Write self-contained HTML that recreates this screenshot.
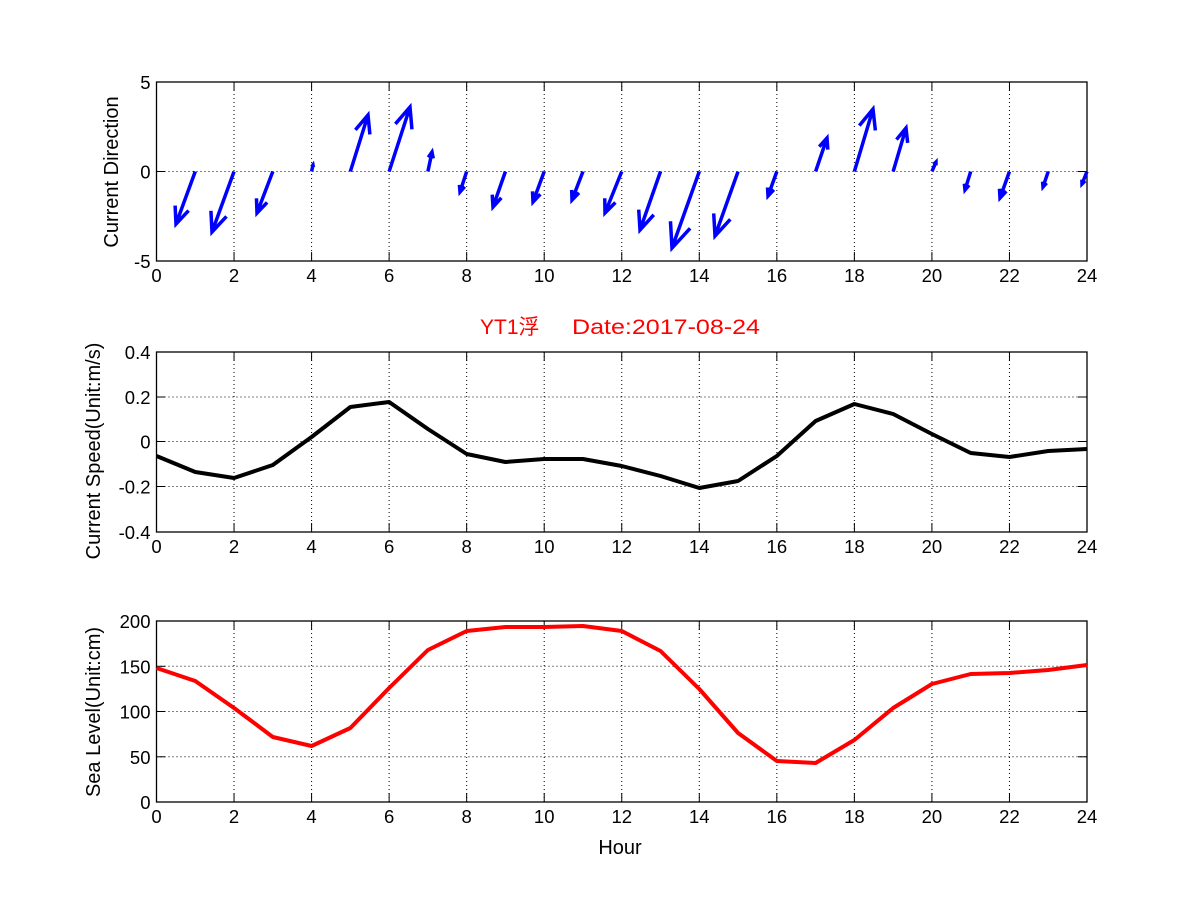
<!DOCTYPE html>
<html><head><meta charset="utf-8"><style>
html,body{margin:0;padding:0;background:#fff;}
svg{display:block;font-family:"Liberation Sans","Noto Sans CJK SC",sans-serif;}
</style></head><body>
<svg id="s" width="1201" height="901" viewBox="0 0 1201 901" xmlns="http://www.w3.org/2000/svg">
<rect width="1201" height="901" fill="#fff"/>
<g id="g"></g>
<text x="480" y="334" font-size="21" fill="#ff0000">YT1浮</text>
<text x="572" y="334" font-size="21" fill="#ff0000" textLength="188" lengthAdjust="spacingAndGlyphs">Date:2017-08-24</text>
<text x="620" y="854" font-size="20" text-anchor="middle">Hour</text>
<text transform="translate(118,172) rotate(-90)" font-size="20" text-anchor="middle">Current Direction</text>
<text transform="translate(100,451) rotate(-90)" font-size="20" text-anchor="middle">Current Speed(Unit:m/s)</text>
<text transform="translate(100,712) rotate(-90)" font-size="20" text-anchor="middle">Sea Level(Unit:cm)</text>
</svg>
<script>
var g=document.getElementById('g'),h='';
var L=156.5,R=1087;
function X(t){return L+t*(R-L)/24;}
function axes(top,bot,yt,ylab){
  var s='';
  for(var i=0;i<yt.length;i++){var y=yt[i];
    if(y>top+1&&y<bot-1) s+='<line x1="'+L+'" x2="'+R+'" y1="'+y+'" y2="'+y+'" stroke="#000" stroke-width="1" stroke-dasharray="1,3"/>';
    s+='<line x1="'+L+'" x2="'+(L+9)+'" y1="'+y+'" y2="'+y+'" stroke="#000"/><line x1="'+R+'" x2="'+(R-9)+'" y1="'+y+'" y2="'+y+'" stroke="#000"/>';
    s+='<text x="'+(L-6)+'" y="'+(y+7)+'" font-size="18.5" text-anchor="end">'+ylab[i]+'</text>';}
  for(var t=0;t<=24;t+=2){var x=X(t);
    if(t>0&&t<24) s+='<line x1="'+x+'" x2="'+x+'" y1="'+top+'" y2="'+bot+'" stroke="#000" stroke-dasharray="1,3"/>';
    s+='<line x1="'+x+'" x2="'+x+'" y1="'+bot+'" y2="'+(bot-9)+'" stroke="#000"/><line x1="'+x+'" x2="'+x+'" y1="'+top+'" y2="'+(top+9)+'" stroke="#000"/>';
    s+='<text x="'+x+'" y="'+(bot+21)+'" font-size="18.5" text-anchor="middle">'+t+'</text>';}
  s+='<rect x="'+L+'" y="'+top+'" width="'+(R-L)+'" height="'+(bot-top)+'" fill="none" stroke="#000" stroke-width="1.3"/>';
  return s;}
h+=axes(82,261,[82,171.5,261],['5','0','-5']);
h+=axes(352,532,[352,397,441.5,486.5,532],['0.4','0.2','0','-0.2','-0.4']);
h+=axes(621,802,[621,666.3,711.5,756.8,802],['200','150','100','50','0']);
var tips=[[1,176,224],[2,212,232],[3,257,213],[4,313,165],[5,368,115],[6,410,107],[7,432,152],[8,460,192],[9,493,207],[10,533,202],[11,572,200],[12,605,213],[13,640,230],[14,672,248],[15,715,236],[16,768,196],[17,827,138],[18,873,109],[19,906,128],[20,936,162],[21,965,190],[22,1000,198],[23,1043,187],[24,1082,184]];
var a='';
tips.forEach(function(p){var x0=X(p[0]),y0=171.5,x1=p[1],y1=p[2];
  var dx=x1-x0,dy=y1-y0,len=Math.sqrt(dx*dx+dy*dy),ang=Math.atan2(dy,dx),hl=len*0.33,da=0.4;
  var b1x=x1-hl*Math.cos(ang-da),b1y=y1-hl*Math.sin(ang-da),b2x=x1-hl*Math.cos(ang+da),b2y=y1-hl*Math.sin(ang+da);
  a+='<path d="M'+x0+','+y0+'L'+x1+','+y1+'M'+b1x+','+b1y+'L'+x1+','+y1+'L'+b2x+','+b2y+'" fill="none" stroke="#0000ff" stroke-width="3.5" stroke-linejoin="miter"/>';});
h+=a;
var sp=[456,472,478,465,437,407,402,429,454,462,459,459,466,476,488,481,456,421,404,414,434,453,457,451,449];
var sl=[668,681,708,737,746,728,688,650,631,627,627,626,631,651,689,733,761,763,740,708,684,674,673,670,665];
function poly(d,c){return '<polyline fill="none" stroke="'+c+'" stroke-width="4" stroke-linejoin="round" points="'+d.map(function(v,i){return X(i)+','+v;}).join(' ')+'"/>';}
h+=poly(sp,'#000')+poly(sl,'#ff0000');
g.innerHTML=h;
</script>
</body></html>
